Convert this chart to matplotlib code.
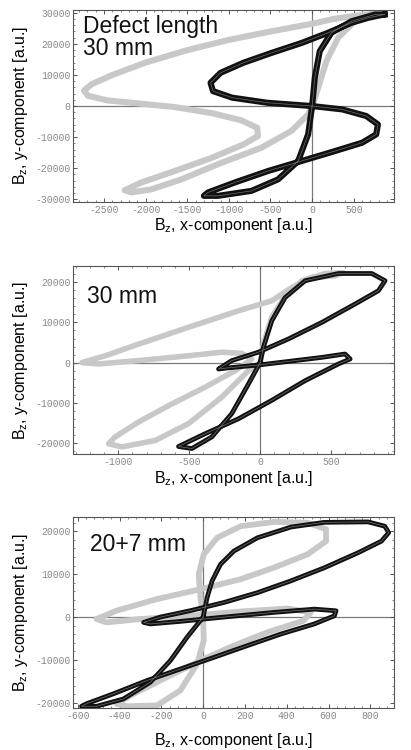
import matplotlib
matplotlib.use("Agg")
import matplotlib.pyplot as plt
from matplotlib.ticker import AutoMinorLocator, MultipleLocator

plt.rcParams["font.family"] = ["Liberation Sans", "DejaVu Sans"]
plt.rcParams["axes.unicode_minus"] = False

# ---- panel 1: defect length 30 mm ----
p1_black_x = [870, 673, 473, 192, -128, -489, -829, -1100, -1220, -1190, -960, -540, 0,
              360, 650, 790, 770, 600, 272, -128, -529, -929, -1250, -1300, -1130, -729,
              -409, -168, -48, 0, 32, 92, 232, 473, 753, 870]
p1_black_y = [29500, 28400, 26800, 23600, 20300, 17100, 13900, 10700, 7500, 4800, 2700, 1070, 0,
              -1070, -3200, -5900, -9100, -11800, -14500, -17700, -20900, -24600, -27800, -28900,
              -28900, -27300, -23600, -17700, -9100, 0, 9100, 17700, 23600, 27300, 29450, 29500]
p1_gray_x = [753, 500, 250, 0, -500, -1000, -1500, -2000, -2400, -2650, -2740, -2692, -2452, -2051,
             -1650, -1200, -850, -660, -650, -820, -1200, -1650, -2051, -2251, -2171, -1931, -1570,
             -1130, -609, -248, -48, 0, 72, 172, 312, 513, 753]
p1_gray_y = [29700, 29000, 28000, 26500, 24000, 21300, 18000, 14000, 10000, 7000, 5000, 3300, 1800,
             750, -320, -2300, -4600, -7000, -9600, -12300, -16600, -20900, -24600, -27100, -27800,
             -26800, -23600, -18700, -13400, -8000, -2700, 0, 5900, 14500, 22000, 27300, 29700]

# ---- panel 2: 30 mm ----
p2_black_x = [0, 23, 82, 176, 317, 552, 786, 880, 833, 669, 434, 200, -12, -200, -293, -223, -12,
              200, 434, 598, 634, 552, 317, 82, -153, -387, -575, -481, -340, -200, -82, 0]
p2_black_y = [0, 3800, 10400, 16200, 20400, 22200, 22200, 20400, 17900, 14600, 10000, 5900, 2600,
              500, -1600, -1300, -600, 300, 1300, 2150, 900, -330, -4500, -9400, -14000, -17700,
              -20900, -21400, -18500, -12700, -5300, 0]
p2_gray_x = [0, 23, 82, 176, 293, 458, 587, 528, 364, 223, 82, -153, -505, -857, -1091, -1256,
             -1138, -857, -505, -270, -129, -59, -106, -176, -387, -622, -857, -1021, -1068, -974,
             -739, -505, -270, -82, 0]
p2_gray_y = [0, 4600, 11300, 16600, 20400, 22200, 22400, 21600, 21200, 18700, 15400, 12900, 8800,
             4600, 1700, 0, -330, 500, 1700, 2600, 2300, 900, -330, -2000, -6100, -10300, -14800,
             -18500, -20200, -21000, -19400, -15200, -8600, -2000, 0]

# ---- panel 3: 20+7 mm ----
p3_black_x = [0, 19, 43, 83, 147, 260, 420, 580, 789, 869, 888, 853, 741, 580, 420, 260, 99, -61,
              -205, -285, -253, -109, 99, 340, 532, 636, 628, 532, 372, 212, 51, -109, -269, -430,
              -558, -582, -510, -382, -253, -157, -77, 0]
p3_black_y = [0, 4570, 8450, 12300, 15400, 18500, 21000, 22100, 22200, 21200, 19700, 17700, 15000,
              11500, 8450, 5700, 3400, 1500, 0, -1240, -1600, -1000, 0, 1100, 1860, 1470, 300,
              -1600, -3950, -6650, -9400, -12100, -14800, -17900, -20200, -20800, -20800, -19100,
              -15200, -10150, -4700, 0]
p3_gray_x = [0, -13, -21, 3, 67, 180, 340, 500, 588, 588, 500, 340, 180, -13, -221, -414, -510,
             -462, -301, -61, 180, 404, 515, 480, 308, 147, -13, -173, -333, -414, -365, -221,
             -109, -29, 3, 0]
p3_gray_y = [0, 4570, 10000, 14650, 18500, 21200, 22200, 22000, 20500, 17700, 14650, 11550, 8850,
             6500, 4200, 1500, -450, -1240, -450, 300, 1300, 2000, 1100, -850, -3550, -6650,
             -10150, -14000, -17900, -20200, -20800, -20600, -17100, -10900, -5500, 0]

panels = [
    dict(bx=p1_black_x, by=p1_black_y, gx=p1_gray_x, gy=p1_gray_y,
         xlim=(-2870, 985), ylim=(-30800, 31000), xstep=500, ystep=10000,
         label="Defect length\n30 mm", rect=[0.178, 0.731, 0.781, 0.256], xpad=1,
         blw=4.4, glw=4.4),
    dict(bx=p2_black_x, by=p2_black_y, gx=p2_gray_x, gy=p2_gray_y,
         xlim=(-1317, 944), ylim=(-22700, 24000), xstep=500, ystep=10000,
         label="30 mm", rect=[0.178, 0.395, 0.781, 0.250], xpad=2,
         blw=3.4, glw=4.0),
    dict(bx=p3_black_x, by=p3_black_y, gx=p3_gray_x, gy=p3_gray_y,
         xlim=(-622, 914), ylim=(-21200, 23400), xstep=200, ystep=10000,
         label="20+7 mm", rect=[0.178, 0.056, 0.781, 0.255], xpad=7,
         blw=3.4, glw=4.2),
]
text_pos = [(0.031, 0.975), (0.044, 0.90), (0.053, 0.915)]

fig = plt.figure(figsize=(4.11, 7.5), dpi=100)
for p, (tx, ty) in zip(panels, text_pos):
    ax = fig.add_axes(p["rect"])
    ax.axhline(0, color="#7a7a7a", lw=0.9, zorder=1)
    ax.axvline(0, color="#7a7a7a", lw=0.9, zorder=1)
    # repeated cycles form bundles: thick stroke, faint strand inside the black one
    ax.plot(p["gx"], p["gy"], color="#c8c8c8", lw=p["glw"], solid_joinstyle="round", zorder=2)
    ax.plot(p["bx"], p["by"], color="#111111", lw=p["blw"], solid_joinstyle="round", zorder=3)
    ax.plot(p["bx"], p["by"], color="#6e6e6e", lw=0.5, solid_joinstyle="round", zorder=3)
    ax.set_xlim(*p["xlim"])
    ax.set_ylim(*p["ylim"])
    ax.xaxis.set_major_locator(MultipleLocator(p["xstep"]))
    ax.yaxis.set_major_locator(MultipleLocator(p["ystep"]))
    ax.xaxis.set_minor_locator(AutoMinorLocator(5))
    ax.yaxis.set_minor_locator(AutoMinorLocator(5))
    ax.tick_params(which="both", direction="in", top=True, right=True, color="#555555")
    ax.tick_params(which="major", length=3, width=0.7, labelsize=7, labelcolor="#888888", pad=2)
    ax.tick_params(which="minor", length=1.5, width=0.5)
    for lab in ax.get_xticklabels() + ax.get_yticklabels():
        lab.set_family("Liberation Mono")
    for sp in ax.spines.values():
        sp.set_color("#555555")
        sp.set_linewidth(0.8)
    ax.set_xlabel(r"B$\mathregular{_z}$, x-component [a.u.]", fontsize=11.5, labelpad=p["xpad"])
    ax.set_ylabel(r"B$\mathregular{_z}$, y-component [a.u.]", fontsize=11.5, labelpad=4)
    ax.text(tx, ty, p["label"], transform=ax.transAxes, ha="left", va="top",
            fontsize=16.5, linespacing=0.95, color="#111111")

fig.savefig("out.png", dpi=100)
